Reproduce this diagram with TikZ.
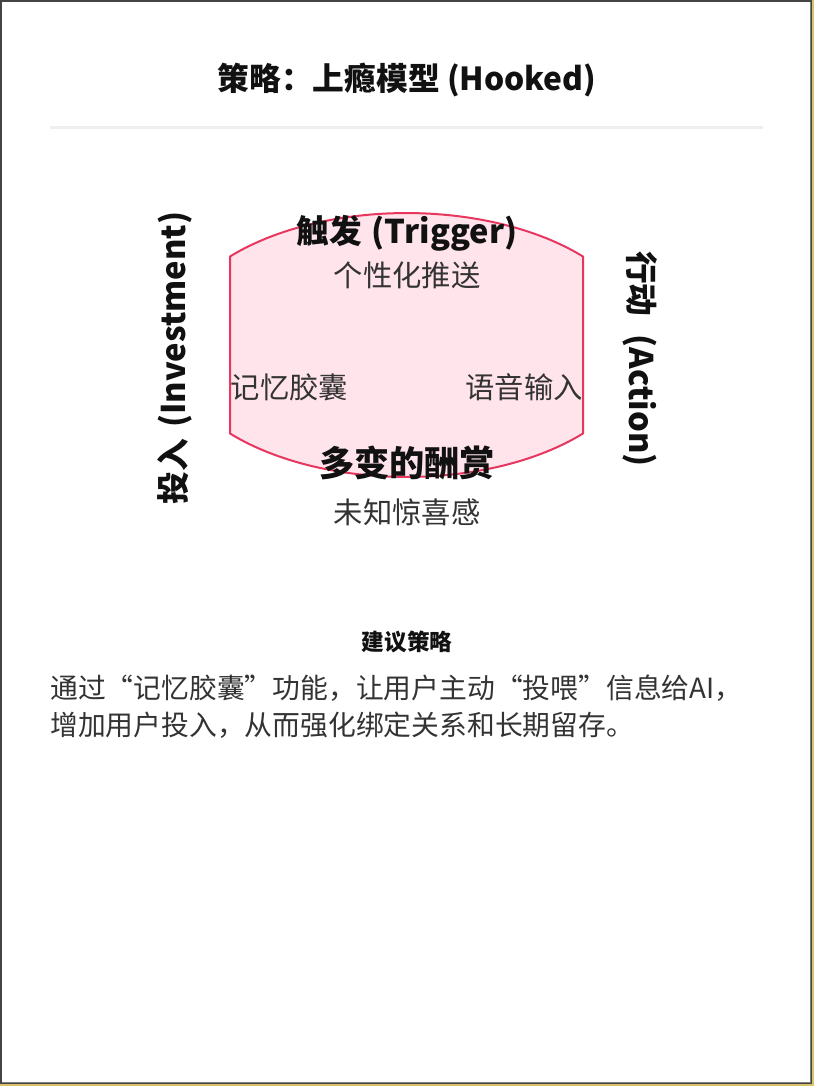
\documentclass[tikz,border=0pt]{standalone}
\usepackage{fontspec}
\setmainfont{Noto Sans CJK SC}
\definecolor{frameyel}{HTML}{D9C26A}
\definecolor{framedark}{HTML}{444444}
\definecolor{rulegray}{HTML}{EEEEEE}
\definecolor{hookfill}{HTML}{FFE4EC}
\definecolor{hookline}{HTML}{E8375F}
\definecolor{ink}{HTML}{111111}
\definecolor{subink}{HTML}{333333}
\tikzset{
  titletext/.style={font=\fontsize{23.8pt}{28pt}\selectfont\bfseries, text=ink, inner sep=0pt},
  headtext/.style={font=\fontsize{24.5pt}{28pt}\selectfont\bfseries, text=ink, inner sep=0pt},
  subtext/.style={font=\fontsize{22pt}{26pt}\selectfont, text=subink, inner sep=0pt},
  sidetext/.style={font=\fontsize{24.5pt}{28pt}\selectfont\bfseries, text=ink, inner sep=0pt},
  smallhead/.style={font=\fontsize{17pt}{20pt}\selectfont\bfseries, text=ink, inner sep=0pt},
  bodytext/.style={font=\fontsize{20.85pt}{27.75pt}\selectfont, text=subink, inner sep=0pt},
}
\begin{document}
\begin{tikzpicture}[x=0.75pt,y=-0.75pt]
\useasboundingbox (0,0) rectangle (814,1086);
% frame
\fill[frameyel] (0,0) rectangle (814,1086);
\fill[framedark] (0,0) rectangle (812,1084);
\fill[gray] (2,2) rectangle (811,1083);
\fill[white] (2,2) rectangle (810,1082);
% title
\node[titletext, anchor=base] (title) at (407,90) {策略：上瘾模型 (Hooked)};
\draw[rulegray, line width=2.25pt] (50,127) coordinate (ruleL) -- (763,127) coordinate (ruleR);
% hook shape
\draw[hookline, fill=hookfill, line width=1.5pt, line join=round]
  (230,256.5) coordinate (hookTL)
  arc[start angle=-137.87, end angle=-42.13, x radius=238, y radius=132]
  -- (583,433.5)
  arc[start angle=42.13, end angle=137.87, x radius=238, y radius=132]
  -- cycle;
% texts
\node[headtext, anchor=base] (trigger) at (407,243) {触发\hspace{0.3em}(Trigger)};
\node[subtext, anchor=base] (push) at (407,286) {个性化推送};
\node[subtext, anchor=base] (memory) at (289.5,398) {记忆胶囊};
\node[subtext, anchor=base] (voice) at (524,398) {语音输入};
\node[headtext, font=\fontsize{26.4pt}{30pt}\selectfont\bfseries, anchor=base] (reward) at (407,476) {多变的酬赏};
\node[subtext, anchor=base] (surprise) at (407,523) {未知惊喜感};
\node[sidetext, rotate=-90] (action) at (640,359) {行动\hspace{0.55em}(Action)};
\node[sidetext, rotate=90] (invest) at (175,358) {投入\hspace{0.35em}(Investment)};
% suggestion
\node[smallhead, anchor=base] (sugg) at (407,650) {建议策略};
\node[bodytext, anchor=base west] (line1) at (50,698) {通过“记忆胶囊”功能，让用户主动“投喂”信息给AI，};
\node[bodytext, anchor=base west] (line2) at (50,735) {增加用户投入，从而强化绑定关系和长期留存。};
\end{tikzpicture}
\end{document}
